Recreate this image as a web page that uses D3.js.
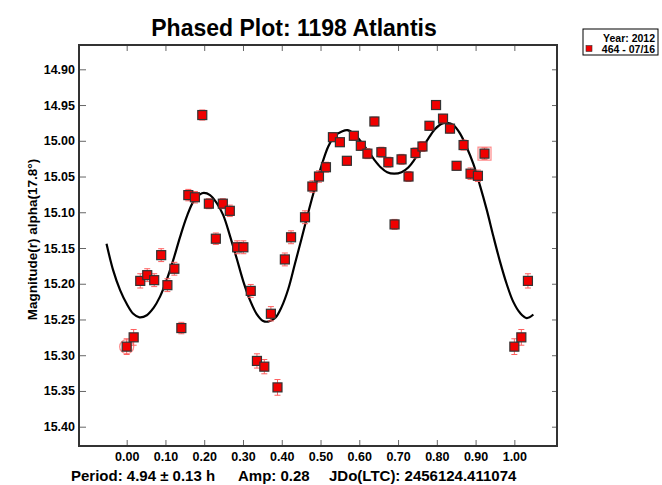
<!DOCTYPE html>
<html>
<head>
<meta charset="utf-8">
<script src="https://cdn.jsdelivr.net/npm/d3@7"></script>
<style>
  body { margin: 0; background: #fff; }
  text { font-family: "Liberation Sans", Arial, sans-serif; font-weight: bold; fill: #000; }
</style>
</head>
<body>
<script>

// observed points (phase, reduced mag, error)
const phase = [0.000, 0.018, 0.035, 0.053, 0.071, 0.089, 0.105, 0.123, 0.141, 0.159,
    0.176, 0.195, 0.212, 0.230, 0.248, 0.266, 0.285, 0.301, 0.320, 0.336,
    0.355, 0.372, 0.389, 0.408, 0.424, 0.460, 0.479, 0.496, 0.514, 0.532,
    0.550, 0.568, 0.586, 0.604, 0.621, 0.639, 0.657, 0.675, 0.691, 0.709,
    0.727, 0.745, 0.763, 0.781, 0.798, 0.816, 0.834, 0.851, 0.869, 0.887,
    0.906, 0.923];
const mag = [15.288, 15.275, 15.196, 15.188, 15.195, 15.160, 15.202, 15.179, 15.262, 15.076,
    15.079, 14.964, 15.088, 15.137, 15.088, 15.098, 15.149, 15.149, 15.210, 15.308,
    15.316, 15.242, 15.345, 15.166, 15.135, 15.107, 15.064, 15.050, 15.037, 14.995,
    15.002, 15.028, 14.993, 15.007, 15.018, 14.973, 15.016, 15.030, 15.117, 15.026,
    15.050, 15.017, 15.008, 14.979, 14.950, 14.969, 14.983, 15.035, 15.006, 15.046,
    15.049, 15.018];
const magErr = [0.011, 0.011, 0.010, 0.009, 0.009, 0.009, 0.009, 0.009, 0.008, 0.008,
    0.008, 0.007, 0.007, 0.008, 0.007, 0.008, 0.009, 0.009, 0.009, 0.010,
    0.010, 0.010, 0.011, 0.009, 0.009, 0.009, 0.008, 0.008, 0.007, 0.006,
    0.006, 0.006, 0.006, 0.006, 0.007, 0.006, 0.007, 0.007, 0.007, 0.007,
    0.007, 0.007, 0.007, 0.006, 0.006, 0.006, 0.006, 0.006, 0.007, 0.008,
    0.008, 0.008];
const circledIdx = [0];
const boxedIdx = [51];

// fourier fit
const fitPhase = [-0.052, -0.035, -0.017, 0.000, 0.017, 0.033, 0.052, 0.069, 0.086, 0.103,
    0.120, 0.138, 0.155, 0.172, 0.189, 0.199, 0.215, 0.232, 0.249, 0.267,
    0.284, 0.301, 0.318, 0.335, 0.352, 0.365, 0.383, 0.400, 0.417, 0.434,
    0.451, 0.469, 0.486, 0.503, 0.520, 0.537, 0.555, 0.569, 0.586, 0.604,
    0.621, 0.638, 0.655, 0.672, 0.690, 0.709, 0.727, 0.744, 0.761, 0.778,
    0.795, 0.813, 0.826, 0.843, 0.860, 0.877, 0.894, 0.911, 0.929, 0.946,
    0.963, 0.980, 0.997, 1.015, 1.032, 1.049];
const fitMag = [15.144, 15.181, 15.209, 15.228, 15.242, 15.247, 15.244, 15.234, 15.218, 15.195,
    15.167, 15.134, 15.106, 15.085, 15.075, 15.073, 15.076, 15.087, 15.104, 15.134,
    15.165, 15.197, 15.223, 15.242, 15.252, 15.253, 15.248, 15.232, 15.207, 15.172,
    15.137, 15.099, 15.065, 15.034, 15.008, 14.993, 14.987, 14.985, 14.990, 15.001,
    15.013, 15.026, 15.037, 15.044, 15.046, 15.044, 15.037, 15.025, 15.011, 14.997,
    14.984, 14.976, 14.975, 14.978, 14.990, 15.009, 15.032, 15.062, 15.097, 15.134,
    15.169, 15.200, 15.225, 15.241, 15.248, 15.243];

const xTicks = [0, 0.1, 0.2, 0.3, 0.4, 0.5, 0.6, 0.7, 0.8, 0.9, 1.0];
const yTicks = [14.90, 14.95, 15.00, 15.05, 15.10, 15.15, 15.20, 15.25, 15.30, 15.35, 15.40];

const title = "Phased Plot: 1198 Atlantis";
const yLabel = "Magnitude(r) alpha(17.8°)";
const legendTitle = "Year: 2012";
const legendSeries = "464 - 07/16";
const footer = ["Period: 4.94 ± 0.13 h", "Amp: 0.28", "JDo(LTC): 2456124.411074"];

const W = 662, H = 485;
const frame = { left: 79, right: 557, top: 45, bottom: 446 };

const x = d3.scaleLinear().domain([-0.123, 1.110]).range([frame.left, frame.right]);
const y = d3.scaleLinear().domain([14.866, 15.427]).range([frame.top, frame.bottom]);

const svg = d3.select("body").append("svg")
    .attr("width", W)
    .attr("height", H);

svg.append("rect").attr("width", W).attr("height", H).attr("fill", "#fff");

// title
svg.append("text")
    .attr("x", 294).attr("y", 36)
    .attr("text-anchor", "middle")
    .style("font-size", "23px")
    .text(title);

// axes (ticks inward)
const fmt = d3.format(".2f");
const axisStyle = (g) => {
    g.select(".domain").remove();
    g.selectAll(".tick line").attr("stroke", "#666");
    g.selectAll(".tick text").style("font-size", "12.5px").attr("fill", "#000");
};

svg.append("g")
    .attr("transform", `translate(0,${frame.bottom})`)
    .call(d3.axisBottom(x).tickValues(xTicks).tickFormat(fmt).tickSize(-6).tickPadding(6))
    .call(axisStyle);

svg.append("g")
    .attr("transform", `translate(0,${frame.top})`)
    .call(d3.axisTop(x).tickValues(xTicks).tickFormat("").tickSize(-6))
    .call(axisStyle);

svg.append("g")
    .attr("transform", `translate(${frame.left},0)`)
    .call(d3.axisLeft(y).tickValues(yTicks).tickFormat(fmt).tickSize(-7).tickPadding(4))
    .call(axisStyle);

svg.append("g")
    .attr("transform", `translate(${frame.right},0)`)
    .call(d3.axisRight(y).tickValues(yTicks).tickFormat("").tickSize(-5))
    .call(axisStyle);

// frame
svg.append("rect")
    .attr("x", frame.left).attr("y", frame.top)
    .attr("width", frame.right - frame.left)
    .attr("height", frame.bottom - frame.top)
    .attr("fill", "none")
    .attr("stroke", "#333")
    .attr("stroke-width", 2);

// y label
svg.append("text")
    .attr("transform", `translate(37,${(frame.top + frame.bottom) / 2 - 6}) rotate(-90)`)
    .attr("text-anchor", "middle")
    .style("font-size", "13.5px")
    .text(yLabel);

// points: repeat the early phases after 1.0 (fit runs to ~1.05)
let pts = phase.map((p, i) => ({ p: p, m: mag[i], e: magErr[i], i: i, copy: false }));
pts = pts.concat(pts.filter(d => d.p + 1 <= fitPhase[fitPhase.length - 1])
    .map(d => ({ p: d.p + 1, m: d.m, e: d.e, i: d.i, copy: true })));

const plot = svg.append("g");

// fit curve
const line = d3.line()
    .x((d, i) => x(fitPhase[i]))
    .y(d => y(d))
    .curve(d3.curveCatmullRom);

plot.append("path")
    .datum(fitMag)
    .attr("d", line)
    .attr("fill", "none")
    .attr("stroke", "#000")
    .attr("stroke-width", 2.2);

// highlights
plot.selectAll(".circ")
    .data(pts.filter(d => !d.copy && circledIdx.includes(d.i)))
    .enter().append("circle")
    .attr("cx", d => x(d.p)).attr("cy", d => y(d.m))
    .attr("r", 7)
    .attr("fill", "none")
    .attr("stroke", "#ff8a8a")
    .attr("stroke-width", 1.3);

plot.selectAll(".box")
    .data(pts.filter(d => !d.copy && boxedIdx.includes(d.i)))
    .enter().append("rect")
    .attr("x", d => x(d.p) - 6.5).attr("y", d => y(d.m) - 6.5)
    .attr("width", 13).attr("height", 13)
    .attr("fill", "none")
    .attr("stroke", "#ff8a8a")
    .attr("stroke-width", 1.2);

// error bars
const eb = plot.selectAll(".err")
    .data(pts)
    .enter().append("g")
    .attr("stroke", "#ff6060")
    .attr("stroke-width", 1);

eb.append("line")
    .attr("x1", d => x(d.p)).attr("x2", d => x(d.p))
    .attr("y1", d => y(d.m - d.e)).attr("y2", d => y(d.m + d.e));
eb.append("line")
    .attr("x1", d => x(d.p) - 3).attr("x2", d => x(d.p) + 3)
    .attr("y1", d => y(d.m - d.e)).attr("y2", d => y(d.m - d.e));
eb.append("line")
    .attr("x1", d => x(d.p) - 3).attr("x2", d => x(d.p) + 3)
    .attr("y1", d => y(d.m + d.e)).attr("y2", d => y(d.m + d.e));

// markers
plot.selectAll(".pt")
    .data(pts)
    .enter().append("rect")
    .attr("x", d => x(d.p) - 4.5).attr("y", d => y(d.m) - 4.5)
    .attr("width", 9).attr("height", 9)
    .attr("fill", "#f00000")
    .attr("stroke", "#333")
    .attr("stroke-width", 1.2);

// legend
const lg = svg.append("g");
lg.append("rect")
    .attr("x", 583).attr("y", 29)
    .attr("width", 75).attr("height", 26)
    .attr("fill", "#fff")
    .attr("stroke", "#000")
    .attr("stroke-width", 1);
lg.append("text")
    .attr("x", 655).attr("y", 42)
    .attr("text-anchor", "end")
    .style("font-size", "10.5px")
    .text(legendTitle);
lg.append("rect")
    .attr("x", 586).attr("y", 45.5)
    .attr("width", 6).attr("height", 6)
    .attr("fill", "#f00000")
    .attr("stroke", "#333")
    .attr("stroke-width", 0.6);
lg.append("text")
    .attr("x", 655).attr("y", 53)
    .attr("text-anchor", "end")
    .style("font-size", "10.5px")
    .text(legendSeries);

// footer
const footX = [71, 238, 329];
svg.selectAll(".foot")
    .data(footer)
    .enter().append("text")
    .attr("x", (d, i) => footX[i])
    .attr("y", 481)
    .style("font-size", "15px")
    .text(d => d);

</script>
</body>
</html>
